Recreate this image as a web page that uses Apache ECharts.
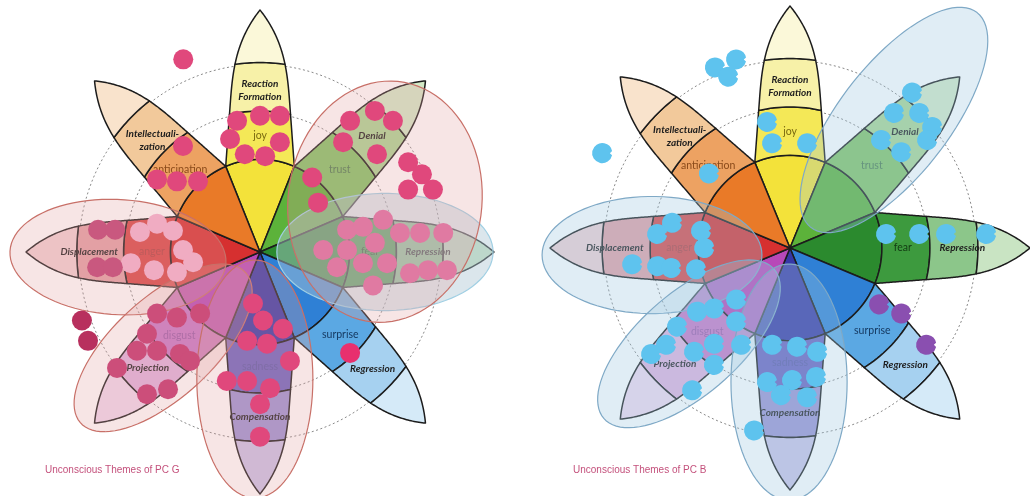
<!DOCTYPE html>
<html><head><meta charset="utf-8">
<script src="https://cdn.jsdelivr.net/npm/echarts@6/dist/echarts.min.js"></script>
<style>html,body{margin:0;padding:0;background:#fff}#c{width:1030px;height:496px}</style>
</head><body><div id="c"></div>
<script>
// ---------- data ----------
const emotions = ['joy','trust','fear','surprise','sadness','disgust','anger','anticipation'];
const defenses = ['Reaction\nFormation','Denial','Repression','Regression','Compensation','Projection','Displacement','Intellectuali-\nzation'];
const petalAngles = [90,45,0,-45,-90,-135,180,135];
const emotionLabelR = [4.8,4.82,4.7,4.85,4.75,4.88,4.62,4.82];
const defenseLabelR = [6.7,6.77,7.18,6.8,6.8,6.78,7.3,6.5];
const petalShades = [
  ['#f3e23a','#f4e857','#f7f1a8','#fbf8d9'],
  ['#5cb23a','#82c466','#a9d693','#d2e9c6'],
  ['#2b8a2e','#3d9a3e','#8cc68a','#c9e4c3'],
  ['#2f80d5','#5ba8e3','#a6d1f0','#d5eaf8'],
  ['#3638a6','#6b63c0','#9b94d4','#c9c3e8'],
  ['#b848b8','#c878c6','#e0b2de','#f0d9ef'],
  ['#d63030','#d94646','#e3a0a6','#f1d0d3'],
  ['#e97a28','#eda262','#f2c99b','#f9e3cc']
];
const emotionTextColors = ['#7a6a10','#4a7a50','#123a12','#163a62','#5a5aa8','#9a5aa8','#b04040','#8a4a1a'];
const bandRadii = [0,3.83,5.83,7.83,10];
const dashedRings = [5.75,7.75];
const titles = ['Unconscious Themes of PC G','Unconscious Themes of PC B'];

// PC G dots (flower units, petal length = 10)
const gRose = [[-3.28,7.96],[-0.98,5.42],[0,5.63],[0.85,5.63],[-1.28,4.67],[0.85,4.54],[-0.65,4.04],[0.22,3.96],
  [-3.29,4.38],[-4.40,3.0],[-3.55,2.92],[-2.65,2.92],
  [3.85,5.42],[4.91,5.83],[5.68,5.42],[3.55,4.54],[5.0,4.04],[2.23,3.08],[2.48,2.04],
  [6.33,3.71],[6.92,3.21],[6.33,2.58],[7.39,2.58],
  [-0.30,-2.13],[0.13,-2.83],[0.98,-3.17],[-0.55,-3.67],[0.30,-3.79],[1.28,-4.5],[-1.42,-5.33],[-0.55,-5.33],[0.43,-5.63],[0,-6.29],
  [0,-7.63]];
const gSurprise = [[3.85,-4.17]];
const gFear = [[3.72,0.92],[4.40,1.04],[5.26,1.33],[5.98,0.79],[6.84,0.79],[7.83,0.79],[2.70,0.08],[3.72,0.08],[4.91,0.38],
  [3.29,-0.63],[4.40,-0.46],[5.43,-0.46],[6.41,-0.88],[7.18,-0.75],[7.99,-0.75],[4.83,-1.38]];
const gAnger = [[-5.13,0.83],[-4.40,1.17],[-3.72,0.88],[-3.29,0.08],[-2.86,-0.42],[-5.52,-0.46],[-4.53,-0.75],[-3.55,-0.83]];
const gDisplacement = [[-6.92,0.92],[-6.19,0.92],[-6.96,-0.63],[-6.29,-0.63]];
const gDisgust = [[-4.40,-2.54],[-3.55,-2.71],[-2.56,-2.54],[-4.83,-3.38],[-5.26,-4.08],[-4.40,-4.08],[-3.42,-4.21],[-2.99,-4.5],[-6.11,-4.79],[-4.83,-5.88],[-3.93,-5.67]];
const gOuter = [[-7.61,-2.83],[-7.35,-3.67]];

// PC B dots
const bBlue = [[-3.13,7.46],[-2.25,7.79],[-2.58,7.08],[-7.83,3.92],[-3.38,3.08],
  [-0.96,5.21],[-0.75,4.33],[0.71,4.33],
  [5.08,6.42],[4.33,5.58],[5.38,5.58],[5.92,5.0],[3.79,4.46],[4.63,3.96],[5.71,4.46],
  [4.0,0.58],[5.38,0.58],[6.5,0.58],[8.17,0.58],
  [-4.92,1.04],[-5.54,0.58],[-3.71,0.71],[-3.58,0],[-6.58,-0.67],[-5.54,-0.75],[-4.96,-0.83],[-3.92,-0.88],
  [-2.25,-2.13],[-3.17,-2.5],[-3.88,-2.63],[-4.71,-3.25],[-2.25,-3.04],[-3.17,-3.96],[-2.04,-4.0],[-4.0,-4.29],[-5.17,-4.0],[-5.79,-4.38],[-3.17,-4.83],[-4.08,-5.88],
  [-0.75,-4.0],[0.29,-4.08],[1.13,-4.29],[-0.96,-5.54],[0.08,-5.46],[1.08,-5.33],[-0.38,-6.08],[0.71,-6.17],
  [-1.5,-7.54]];
const bPurple = [[3.71,-2.33],[4.63,-2.71],[5.67,-4.0]];

// theme ellipses: [cx, cy, rx, ry, rotationDeg]
const gEllipses = [[5.34,2.08,4.14,5.0,-8],[-6.07,-0.21,4.62,2.38,-3],[-4.14,-3.96,4.7,2.1,41],[-0.22,-5.25,2.48,4.92,0]];
const gFearEllipse = [[5.34,0,4.62,2.42,0]];
const bEllipses = [[4.33,5.29,5.63,2.3,52],[-5.75,-0.29,4.58,2.42,0],[-4.21,-3.96,4.7,2.1,41],[-0.04,-5.54,2.42,4.88,0]];

// ---------- petal geometry ----------
const R1 = bandRadii[1], HALF_ANG = 22.5*Math.PI/180;
const T1 = R1*Math.cos(HALF_ANG), W1 = R1*Math.sin(HALF_ANG);
function half(t){
  if(t>=10) return 0;
  const w = W1 - 0.075*(t-T1) - 0.0145*Math.pow(Math.max(0,t-6),3.04);
  return Math.max(0,w);
}
function tAtR(r){ if(r>=10) return 10; let lo=T1,hi=10; for(let i=0;i<40;i++){const m=(lo+hi)/2; if(Math.hypot(m,half(m))<r) lo=m; else hi=m;} return (lo+hi)/2; }
function band(b){
  const ra=bandRadii[b], rb=bandRadii[b+1], pts=[];
  if(b===0){
    pts.push([0,0]);
    for(let j=0;j<=24;j++){const a=-HALF_ANG+2*HALF_ANG*j/24; pts.push([rb*Math.cos(a), rb*Math.sin(a)]);}
    return pts;
  }
  const ta=tAtR(ra), tb=tAtR(rb), N=40, M=16;
  for(let i=0;i<=N;i++){const t=ta+(tb-ta)*i/N; pts.push([t,half(t)]);}
  if(rb<10){const th=Math.atan2(half(tb),tb); for(let j=1;j<M;j++){const a=th-2*th*j/M; pts.push([rb*Math.cos(a),rb*Math.sin(a)]);}}
  for(let i=N;i>=0;i--){const t=ta+(tb-ta)*i/N; pts.push([t,-half(t)]);}
  const th=Math.atan2(half(ta),ta); for(let j=1;j<M;j++){const a=-th+2*th*j/M; pts.push([ra*Math.cos(a),ra*Math.sin(a)]);}
  return pts;
}
function rot(p, deg){ const a=deg*Math.PI/180; return [p[0]*Math.cos(a)-p[1]*Math.sin(a), p[0]*Math.sin(a)+p[1]*Math.cos(a)]; }

const notchedDot = 'path://M19.78,12.08A10,10,0,1,1,19.78,7.92L17.6,10Z';

function flowerSeries(ix, ellipses, ellStyle, extraEll, extraStyle, dotGroups){
  const petalData=[]; for(let b=0;b<4;b++) for(let p=0;p<8;p++) petalData.push([p,b]);
  const labelData=[]; for(let p=0;p<8;p++){labelData.push([p,0]); labelData.push([p,1]);}
  const ax = {xAxisIndex:ix, yAxisIndex:ix};
  const s = [];
  s.push(Object.assign({type:'custom', z:1, silent:true, data:dashedRings.map(r=>[r]), renderItem:(pa,api)=>{
    const c=api.coord([0,0]); const sz=api.size([api.value(0),api.value(0)]);
    return {type:'ellipse', shape:{cx:c[0],cy:c[1],rx:sz[0],ry:sz[1]}, style:{fill:'none',stroke:'#8a8a8a',lineWidth:1,lineDash:[2,2.5]}};
  }}, ax));
  s.push(Object.assign({type:'custom', z:2, silent:true, data:petalData, renderItem:(pa,api)=>{
    const p=api.value(0), b=api.value(1);
    const pts=band(b).map(q=>api.coord(rot(q,petalAngles[p])));
    return {type:'polygon', shape:{points:pts}, style:{fill:petalShades[p][b], stroke:'#1c1c1c', lineWidth:1.5, lineJoin:'round'}};
  }}, ax));
  s.push(Object.assign({type:'custom', z:3, silent:true, data:labelData, renderItem:(pa,api)=>{
    const p=api.value(0), k=api.value(1);
    const r = k===0 ? emotionLabelR[p] : defenseLabelR[p];
    const a = petalAngles[p]*Math.PI/180;
    const c = api.coord([r*Math.cos(a), r*Math.sin(a)]);
    return {type:'text', x:c[0], y:c[1], style:{
      text: k===0 ? emotions[p] : defenses[p],
      font: k===0 ? '10.5px Lato' : 'italic bold 10px Lato',
      fill: k===0 ? emotionTextColors[p] : '#1e1e1e',
      align:'center', verticalAlign:'middle', lineHeight:13}};
  }}, ax));
  const ellRender = (st)=>(pa,api)=>{
    const cx=api.value(0), cy=api.value(1), rx=api.value(2), ry=api.value(3), ph=api.value(4)*Math.PI/180;
    const pts=[]; for(let i=0;i<90;i++){const u=i/90*2*Math.PI; pts.push(api.coord([cx+rx*Math.cos(u)*Math.cos(ph)-ry*Math.sin(u)*Math.sin(ph), cy+rx*Math.cos(u)*Math.sin(ph)+ry*Math.sin(u)*Math.cos(ph)]));}
    return {type:'polygon', shape:{points:pts}, style:st};
  };
  if(extraEll) s.push(Object.assign({type:'custom', z:4, silent:true, data:extraEll, renderItem:ellRender(extraStyle)}, ax));
  s.push(Object.assign({type:'custom', z:4, silent:true, data:ellipses, renderItem:ellRender(ellStyle)}, ax));
  dotGroups.forEach(g=>{
    s.push(Object.assign({type:'scatter', z:6, silent:true, clip:false, symbol:g.symbol||'circle', symbolSize:g.size||20, data:g.data, itemStyle:{color:g.color, opacity:1}}, ax));
  });
  return s;
}

const series = [].concat(
  flowerSeries(0, gEllipses, {fill:'rgba(226,160,160,0.28)', stroke:'#c87068', lineWidth:1.2},
    gFearEllipse, {fill:'rgba(175,200,212,0.45)', stroke:'#a0cfe3', lineWidth:1.2},
    [{data:gRose,color:'#e0487c'},{data:gSurprise,color:'#e8306e'},{data:gFear,color:'#e07aa2'},
     {data:gAnger,color:'#f0acc2'},{data:gDisplacement,color:'#c9587f'},{data:gDisgust,color:'#cc4e7a'},{data:gOuter,color:'#b8305e'}]),
  flowerSeries(1, bEllipses, {fill:'rgba(160,200,225,0.33)', stroke:'#7fa9c6', lineWidth:1.2}, null, null,
    [{data:bBlue,color:'#5ec3ee',symbol:notchedDot},{data:bPurple,color:'#8a4fb0',symbol:notchedDot}])
);

const axisCfg = (i)=>({gridIndex:i, type:'value', min:-10, max:10, show:false});
const chart = echarts.init(document.getElementById('c'), null, {renderer:'canvas'});
chart.setOption({
  animation:false,
  backgroundColor:'#ffffff',
  title: [
    {text:titles[0], left:40, top:460, textStyle:{fontSize:10, fontWeight:'normal', color:'#c4517c', fontFamily:'Liberation Sans'}},
    {text:titles[1], left:568, top:460, textStyle:{fontSize:10, fontWeight:'normal', color:'#c4517c', fontFamily:'Liberation Sans'}}
  ],
  grid:[{left:26, top:10, width:468, height:484},{left:550, top:6, width:480, height:484}],
  xAxis:[axisCfg(0),axisCfg(1)],
  yAxis:[axisCfg(0),axisCfg(1)],
  series: series
});
</script></body></html>
